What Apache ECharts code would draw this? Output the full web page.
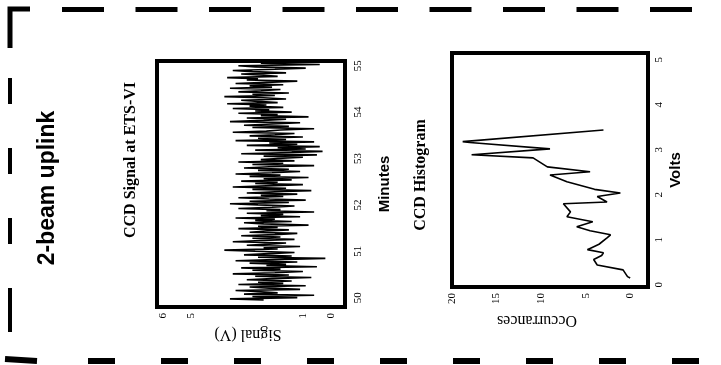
<!DOCTYPE html>
<html>
<head>
<meta charset="utf-8">
<script src="https://cdn.jsdelivr.net/npm/echarts@6/dist/echarts.min.js"></script>
<style>
  html, body { margin: 0; padding: 0; background: #fff; }
  #main { width: 721px; height: 365px; }
</style>
</head>
<body>
<div id="main"></div>
<script>
// CCD signal, volts, sampled evenly from minute 49.95 to 55.05
var signalStart = 49.95;
var signalEnd = 55.05;
var signalVolts = [
  2.4, 3.6, 1.2, 2.8, 0.6, 3.1, 1.9, 2.5, 3.4, 1.1, 2.2, 2.9, 0.9, 3.3, 1.7, 2.6, 1.4, 3.0, 2.1, 0.7,
  2.7, 1.5, 3.5, 2.0, 1.0, 2.8, 1.8, 3.2, 0.5, 2.3, 1.6, 2.9, 1.2, 3.4, 2.0, 0.2, 2.6, 1.4, 3.1, 2.2,
  1.3, 2.7, 3.8, 1.9, 2.4, 1.1, 3.0, 2.2, 1.6, 3.5, 2.5, 1.3, 2.8, 1.8, 3.2, 2.0, 1.2, 2.9, 2.3, 1.5,
  3.3, 1.9, 2.6, 0.8, 2.4, 3.1, 1.4, 2.7, 2.0, 3.4, 1.1, 2.5, 1.7, 3.0, 0.6, 2.3, 1.8, 3.3, 2.1, 1.3,
  2.6, 3.6, 1.5, 2.9, 0.9, 2.2, 3.3, 1.7, 2.5, 1.2, 3.0, 2.0, 0.7, 2.8, 1.6, 3.5, 2.3, 1.0, 2.7, 1.9,
  3.2, 1.4, 2.4, 0.8, 2.9, 1.8, 3.4, 2.1, 1.1, 2.6, 1.5, 3.1, 2.2, 0.6, 2.8, 1.7, 3.3, 1.3, 2.5, 1.9,
  1.0, 2.4, 0.5, 3.2, 1.4, 0.3, 2.7, 0.9, 1.9, 0.4, 3.0, 1.2, 2.2, 0.6, 3.4, 1.6, 2.6, 1.0, 2.9, 2.0,
  1.3, 3.5, 2.3, 1.8, 0.6, 2.8, 1.5, 3.1, 2.1, 1.1, 3.6, 2.4, 1.6, 3.0, 0.8, 2.5, 1.9, 3.3, 1.4, 2.7,
  2.2, 3.5, 1.7, 2.9, 2.3, 3.7, 1.9, 2.6, 3.2, 1.6, 2.4, 3.8, 2.0, 2.8, 1.5, 3.3, 2.5, 1.8, 3.6, 2.1,
  2.9, 1.7, 3.4, 2.3, 1.2, 3.0, 2.6, 3.7, 1.9, 2.4, 3.2, 1.6, 2.8, 3.5, 2.0, 0.9, 2.7, 3.3, 0.4, 2.5
];
var minuteTicks = [50, 51, 52, 53, 54, 55];
var signalTicks = [0, 1, 5, 6];

// CCD histogram
var histVolts = [0.15, 0.18, 0.33, 0.44, 0.56, 0.65, 0.71, 0.78, 0.90, 1.04, 1.11, 1.20, 1.29, 1.40, 1.51,
  1.62, 1.80, 1.84, 1.96, 2.04, 2.12, 2.29, 2.44, 2.51, 2.62, 2.82, 2.89, 3.02, 3.16, 3.18, 3.44];
var histCounts = [0.0, 0.3, 0.8, 3.7, 4.1, 3.2, 3.0, 4.8, 3.5, 2.6, 2.2, 4.5, 6.0, 4.2, 7.1,
  6.7, 7.5, 2.6, 3.7, 1.1, 4.0, 7.1, 9.0, 4.5, 9.3, 10.9, 17.8, 9.0, 18.0, 18.8, 3.0];
var countTicks = [0, 5, 10, 15, 20];
var voltTicks = [0, 1, 2, 3, 4, 5];

var signalData = signalVolts.map(function (v, i) {
  return [v, signalStart + i * (signalEnd - signalStart) / (signalVolts.length - 1)];
});
var histData = histCounts.map(function (c, i) { return [c, histVolts[i]]; });

var serif = '"Liberation Serif", "DejaVu Serif", serif';
var sans = '"Liberation Sans", Arial, sans-serif';

function tickLabel() {
  return { rotate: 90, color: '#000', fontFamily: serif, fontSize: 11, margin: 6 };
}

var mychart = echarts.init(document.getElementById('main'));

var option = {
  backgroundColor: '#fff',
  animation: false,
  grid: [
    { left: 157, top: 61, width: 188, height: 246, show: true, borderColor: '#000', borderWidth: 4 },
    { left: 452, top: 53, width: 196, height: 234, show: true, borderColor: '#000', borderWidth: 4 }
  ],
  xAxis: [
    {
      gridIndex: 0, type: 'value', inverse: true, min: -0.5, max: 6.2, position: 'bottom',
      name: 'Signal (V)', nameLocation: 'middle', nameGap: 9, nameRotate: 180,
      nameTextStyle: { color: '#000', fontFamily: serif, fontSize: 16, padding: [0, 0, 0, 6] },
      axisLine: { show: false }, splitLine: { show: false },
      axisTick: { show: false },
      axisLabel: Object.assign(tickLabel(), { customValues: signalTicks })
    },
    {
      gridIndex: 1, type: 'value', inverse: true, min: -2, max: 20, position: 'bottom',
      name: 'Occurrances', nameLocation: 'middle', nameGap: 25, nameRotate: 180,
      nameTextStyle: { color: '#000', fontFamily: serif, fontSize: 16, padding: [0, 0, 0, 26] },
      axisLine: { show: false }, splitLine: { show: false },
      axisTick: { show: false },
      axisLabel: Object.assign(tickLabel(), { customValues: countTicks })
    }
  ],
  yAxis: [
    {
      gridIndex: 0, type: 'value', min: 49.8, max: 55.1, position: 'right',
      name: 'Minutes', nameLocation: 'middle', nameGap: 32, nameRotate: 90,
      nameTextStyle: { color: '#000', fontFamily: sans, fontWeight: 'bold', fontSize: 15 },
      axisLine: { show: false }, splitLine: { show: false },
      axisTick: { show: false },
      axisLabel: Object.assign(tickLabel(), { customValues: minuteTicks, margin: 8 })
    },
    {
      gridIndex: 1, type: 'value', min: -0.05, max: 5.15, position: 'right',
      name: 'Volts', nameLocation: 'middle', nameGap: 20, nameRotate: 90,
      nameTextStyle: { color: '#000', fontFamily: sans, fontWeight: 'bold', fontSize: 15 },
      axisLine: { show: false }, splitLine: { show: false },
      axisTick: { show: false },
      axisLabel: Object.assign(tickLabel(), { customValues: voltTicks })
    }
  ],
  series: [
    {
      name: 'CCD Signal', type: 'line', xAxisIndex: 0, yAxisIndex: 0,
      data: signalData, showSymbol: false,
      lineStyle: { color: '#000', width: 1.6 }
    },
    {
      name: 'CCD Histogram', type: 'line', xAxisIndex: 1, yAxisIndex: 1,
      data: histData, showSymbol: false,
      lineStyle: { color: '#000', width: 1.6 }
    }
  ],
  graphic: [
    // dashed frame
    { type: 'polyline', shape: { points: [[10, 48], [10, 9], [30, 9]] }, style: { stroke: '#000', lineWidth: 5, fill: null } },
    { type: 'line', shape: { x1: 62, y1: 9.5, x2: 721, y2: 9.5 }, style: { stroke: '#000', lineWidth: 5, lineDash: [42, 31.5] } },
    { type: 'line', shape: { x1: 10, y1: 78, x2: 10, y2: 332 }, style: { stroke: '#000', lineWidth: 4, lineDash: [26, 44] } },
    { type: 'line', shape: { x1: 10, y1: 290, x2: 10, y2: 332 }, style: { stroke: '#000', lineWidth: 4 } },
    { type: 'line', shape: { x1: 5, y1: 359, x2: 37, y2: 361 }, style: { stroke: '#000', lineWidth: 6 } },
    { type: 'line', shape: { x1: 88, y1: 361, x2: 721, y2: 361 }, style: { stroke: '#000', lineWidth: 6, lineDash: [27, 46] } },
    // titles
    {
      type: 'text', x: 48, y: 188, rotation: Math.PI / 2,
      style: { text: '2-beam uplink', fill: '#000', font: 'bold 23px ' + sans, textAlign: 'center', textVerticalAlign: 'middle' }
    },
    {
      type: 'text', x: 131, y: 160, rotation: Math.PI / 2,
      style: { text: 'CCD Signal at ETS-VI', fill: '#000', font: 'bold 16px ' + serif, textAlign: 'center', textVerticalAlign: 'middle' }
    },
    {
      type: 'text', x: 421, y: 175, rotation: Math.PI / 2,
      style: { text: 'CCD Histogram', fill: '#000', font: 'bold 16px ' + serif, textAlign: 'center', textVerticalAlign: 'middle' }
    }
  ]
};
mychart.setOption(option);
</script>
</body>
</html>
